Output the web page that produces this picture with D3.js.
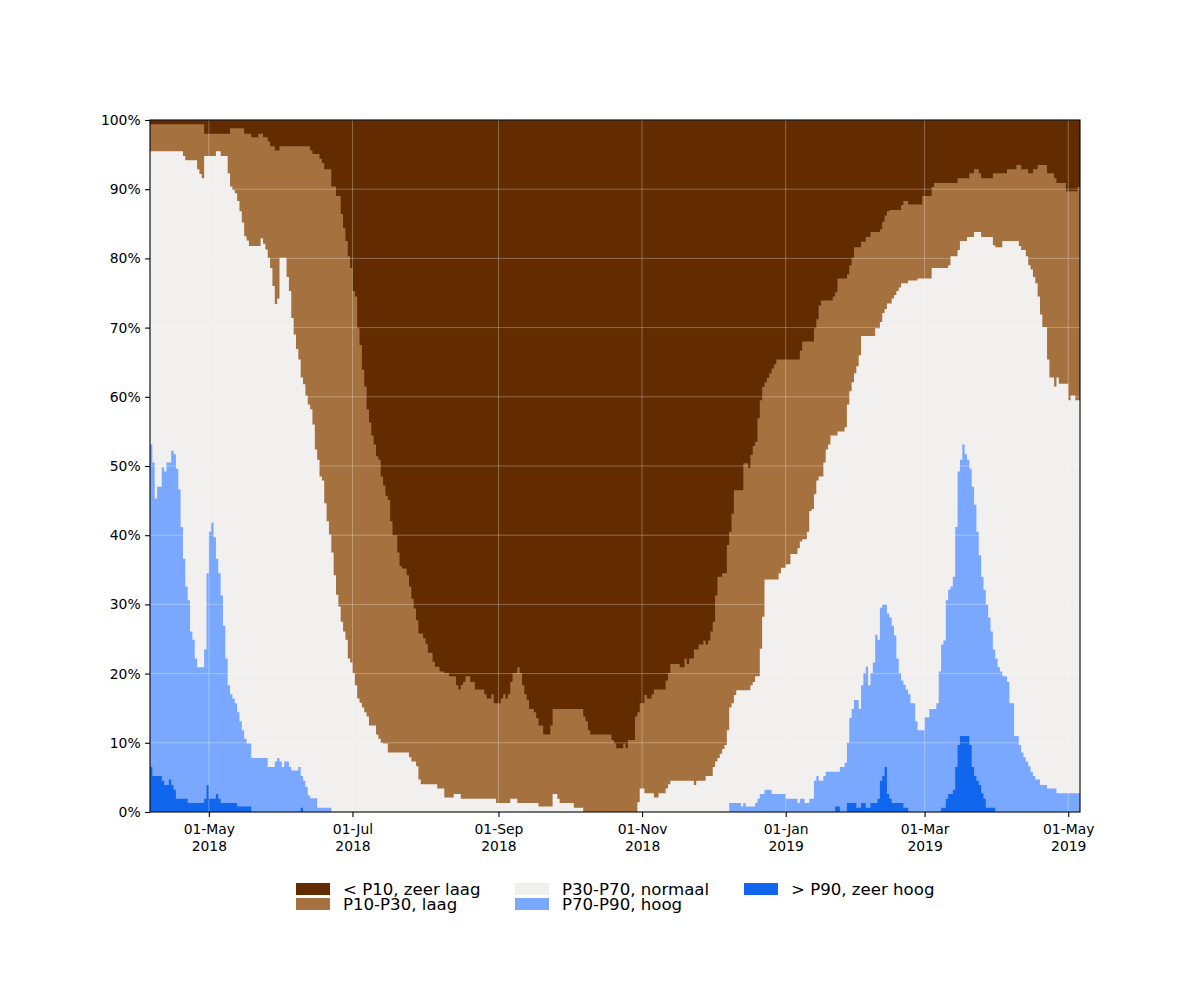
<!DOCTYPE html>
<html><head><meta charset="utf-8">
<script src="https://cdn.jsdelivr.net/npm/d3@7"></script>
<style>
body{margin:0;background:#fff}
svg{display:block}
text{font-family:"DejaVu Sans",sans-serif;fill:#000}
</style>
</head><body>
<svg id="chart" width="1200" height="1000"></svg>
<script>
// ---------------- data ----------------
const startDate = "2018-04-06";
const endDate = "2019-05-06";
const xTickDates = ["2018-05-01","2018-07-01","2018-09-01","2018-11-01","2019-01-01","2019-03-01","2019-05-01"];
const yTicks = [0,10,20,30,40,50,60,70,80,90,100];
const seriesKeys = ["zeerHoog","hoog","normaal","laag","zeerLaag"];
const seriesLabels = {zeerLaag:"< P10, zeer laag", laag:"P10-P30, laag", normaal:"P30-P70, normaal", hoog:"P70-P90, hoog", zeerHoog:"> P90, zeer hoog"};
const seriesColors = {zeerLaag:"#622b00", laag:"#a4713f", normaal:"#f2f0ee", hoog:"#7ba8ff", zeerHoog:"#1166ee"};

// cumulative percentage (from the bottom) at the top of each class,
// as [day since start, value] points where the daily value changes
const cumZeerHoog = [[0,6.5],[1,5.2],[5,4.5],[6,3.9],[8,4.7],[9,3.9],[10,3.2],[11,1.9],[16,1.3],[23,1.9],[24,3.9],[25,1.9],[28,2.6],[29,1.9],[30,1.3],[37,0.8],[43,0],[64,0.6],[65,0],
[291,0.8],[293,0],[296,1.3],[300,0.6],[302,1.3],[304,0.6],[306,1.3],[309,1.9],[310,4.5],[311,5.2],[312,6.5],[313,2.6],[314,1.9],[315,1.3],[320,0.6],[322,0],
[336,0.6],[338,1.9],[339,2.6],[341,3.2],[342,6.5],[343,9.7],[344,11],[348,9.7],[349,6.5],[350,5.2],[351,4.5],[352,3.9],[353,2.7],[354,1.9],[355,0.6],[359,0]];

const cumHoog = [[0,53.1],[1,50.5],[2,45.3],[3,47],[5,49.8],[6,49.2],[7,50.5],[9,52.2],[10,51.7],[11,49.6],[12,46.6],[13,41.2],[14,36.6],[15,32.6],[16,30.6],[17,26.1],[18,24.9],[19,22.2],[20,20.9],[23,23.5],[24,34.5],[25,40.5],[26,41.8],[27,39.7],[28,36.6],[29,34.5],[30,31.3],[31,26.9],[32,22.2],[33,18.3],[34,17],[35,16.4],[36,15.7],[37,14.4],[38,13.1],[39,11.8],[40,10.6],[41,9.9],[43,7.8],[50,6.5],[53,7.3],[54,7.8],[55,7.3],[56,6.5],[57,7.3],[59,6.5],[60,6],[63,6.5],[64,5.2],[65,4.5],[66,3.6],[67,2.4],[68,2],[71,0.6],[77,0],
[246,1.3],[251,0.8],[252,1.3],[253,0.8],[257,1.3],[258,1.9],[259,2.6],[261,3.2],[264,2.6],[270,1.9],[275,1.3],[276,1.9],[278,1.3],[280,1.9],[282,4.5],[283,5.2],[284,4.5],[286,5.2],[287,5.8],[293,6.5],[295,7.1],[296,10],[297,13.6],[298,14.9],[299,16.2],[301,14.9],[302,18.3],[303,20.1],[304,21],[305,18.3],[306,20.1],[307,21.6],[308,25.6],[309,24.9],[310,29.5],[311,30],[313,28.7],[314,28.1],[315,26.9],[316,25.5],[317,22.2],[318,20.1],[319,19],[320,18.4],[321,17.7],[322,17],[323,15.7],[325,13.1],[326,11.8],[329,13.7],[331,14.9],[334,15.7],[335,20.3],[336,24.2],[337,24.8],[338,30.6],[339,32.1],[340,32.6],[341,34],[342,41.2],[343,49.2],[344,50.9],[345,53.1],[346,51.7],[347,50.9],[348,49.6],[349,47],[350,44.4],[351,40.5],[352,37.1],[353,34],[354,32.1],[355,30],[356,28.1],[357,26.1],[358,23.5],[359,22.2],[360,20.9],[361,20.3],[362,19.6],[364,18.8],[365,15.7],[367,11],[369,9.7],[370,8.6],[371,7.9],[372,7.3],[373,6.6],[374,5.8],[375,5.2],[376,4.7],[378,3.9],[381,3.4],[385,2.7]];

const cumNormaal = [[0,95.5],[14,94.8],[15,94.2],[20,92.9],[21,92.2],[22,91.6],[23,94.8],[28,95.5],[30,94.8],[33,92.3],[34,90.4],[35,89.9],[36,89.4],[37,88.3],[38,86.8],[39,85.2],[40,83.2],[41,82.6],[42,81.8],[47,82.9],[48,82.1],[49,81.3],[50,80.1],[51,78.6],[52,76],[53,73.4],[54,74.2],[55,80.1],[58,77.3],[59,75.3],[60,71.4],[61,69],[62,66.9],[63,65.4],[64,62.8],[65,61.8],[66,60.2],[67,58.9],[68,58.2],[69,56],[70,52.4],[71,50.9],[72,48.5],[73,47.9],[74,44.6],[75,42],[76,40.1],[77,37.5],[78,34.2],[79,31.4],[80,29.7],[81,27.5],[82,26.1],[83,24.9],[84,22.2],[85,21.6],[86,20.1],[87,18.3],[88,16.4],[89,15.8],[90,15.1],[91,14.4],[92,13.8],[93,12.5],[96,11.2],[97,10.6],[98,10],[99,9.9],[101,8.6],[110,7.9],[111,7.3],[113,6.6],[114,4.7],[115,4],[122,3.4],[125,2.1],[129,2.6],[132,1.9],[147,1.3],[153,1.9],[156,1.3],[165,0.8],[171,2.6],[173,1.9],[174,1.3],[180,0.6],[184,0],
[207,1.4],[208,3.4],[210,2.7],[214,2.1],[216,2.7],[219,3.4],[220,4],[221,4.5],[231,3.9],[232,4.5],[236,5.2],[239,6.5],[240,7.3],[241,7.8],[242,8.4],[243,9.1],[244,9.7],[245,11.8],[246,15.1],[247,15.7],[248,16.9],[249,17.6],[255,18.3],[256,18.8],[257,19.6],[259,23.6],[260,28.2],[261,33.6],[267,34.5],[268,35.3],[270,35.8],[272,37.3],[275,38.1],[276,39.1],[277,39.4],[279,40.5],[280,43.5],[281,43.8],[282,45.9],[283,47.9],[284,48.5],[286,50.5],[287,52.4],[288,53.1],[289,54.4],[292,55],[295,55.6],[296,58.9],[297,60.8],[298,62.1],[299,63.4],[300,64.4],[301,66],[302,68.8],[308,69.9],[310,70.8],[311,72.1],[312,72.7],[313,73.5],[315,74.2],[316,74.7],[317,75.3],[318,75.8],[319,76.4],[322,76.8],[326,77.1],[332,78.6],[339,79],[340,80.3],[343,81.2],[344,82.5],[347,83.1],[350,83.8],[353,83.1],[358,81.9],[359,81.6],[362,82.5],[369,81.8],[370,81.2],[372,80.3],[373,79],[374,78.4],[375,77.3],[376,76.4],[377,74.5],[378,71.9],[379,70.1],[381,65.4],[382,62.8],[384,61.5],[385,62.8],[386,61.9],[390,59.5],[391,60.2],[393,59.5]];

const cumLaag = [[0,99.4],[23,98],[34,98.8],[40,98],[43,97.5],[46,98],[48,97.5],[50,96.9],[51,96.2],[53,95.6],[55,96.2],[68,95.6],[69,95.1],[72,94.4],[73,93.8],[74,92.9],[77,90.4],[79,89],[81,86.4],[82,84.4],[83,82.5],[84,80.3],[85,78.6],[86,75.3],[87,74.5],[88,69.9],[89,67.5],[90,63.9],[91,61.5],[92,58.2],[93,56.3],[94,54.4],[95,53.1],[96,51.4],[97,50.9],[98,48.5],[99,47.2],[100,45.7],[101,45.1],[102,42],[103,40],[105,37.5],[106,35.5],[107,35.2],[109,34.2],[110,32.6],[111,30.8],[112,29.4],[113,27.7],[114,25.8],[116,25.1],[117,24.3],[118,23],[120,21.7],[121,21],[123,20.3],[125,20.1],[127,19.6],[130,18.3],[131,17.7],[132,18.4],[133,18.8],[134,19.6],[136,18.8],[138,17.7],[142,17],[143,16.4],[145,17],[146,15.7],[149,16.4],[150,17],[151,16.4],[152,17],[153,18.8],[154,20.1],[156,20.9],[157,20.1],[158,18.3],[159,17],[160,16.2],[161,14.9],[163,14.4],[164,13.6],[165,12.5],[167,11.2],[170,12.5],[171,14.9],[184,13.8],[185,13.1],[186,11.8],[187,11.2],[196,10.4],[197,9.9],[198,9.2],[201,9.9],[202,9.2],[203,10.4],[206,13.8],[207,14.4],[208,15.7],[210,16.9],[211,16.4],[213,17],[214,17.7],[219,19],[220,20.1],[221,21.4],[225,20.9],[227,22.2],[228,21.4],[229,22.2],[231,23.5],[233,24.2],[235,24.8],[236,24.2],[237,24.8],[238,26.1],[239,27.5],[240,31.3],[241,34],[243,34.5],[245,38.6],[246,40.5],[247,43.1],[248,46.5],[252,50.4],[254,49.7],[255,51.6],[256,52.9],[257,53.5],[258,56.9],[259,59.5],[260,61.4],[261,62.1],[262,62.7],[263,63.4],[264,64.1],[265,64.7],[266,65.4],[276,66.7],[277,68],[282,69.9],[283,71.2],[284,73.2],[285,73.9],[290,74.5],[291,75.1],[292,77.1],[296,77.7],[297,79],[298,80.1],[299,81.6],[302,82.4],[304,83.1],[306,83.8],[310,84.2],[311,85.3],[312,86.2],[313,86.8],[314,87],[319,87.7],[320,88.3],[322,87.8],[328,89],[332,90.3],[333,90.9],[343,91.6],[348,92.3],[350,92.9],[352,92.3],[353,91.6],[358,92.3],[364,92.9],[368,93.5],[370,92.9],[373,92.3],[375,92.9],[377,93.5],[381,92.3],[384,91.6],[385,90.9],[389,89.7],[394,90.3]];

// ---------------- build daily table ----------------
const parseDay = d3.utcParse("%Y-%m-%d");
const t0 = parseDay(startDate), t1 = parseDay(endDate);
const nDays = d3.utcDay.count(t0, t1);
function valueOn(points, day){ // value held since the last change point
  const i = d3.bisector(p => p[0]).right(points, day) - 1;
  return points[Math.max(0, i)][1];
}
const rows = [];
for (let i = 0; i < nDays; i++) {
  const c1 = valueOn(cumZeerHoog, i), c2 = valueOn(cumHoog, i), c3 = valueOn(cumNormaal, i), c4 = valueOn(cumLaag, i);
  rows.push({date: d3.utcDay.offset(t0, i), zeerHoog: c1, hoog: c2 - c1, normaal: c3 - c2, laag: c4 - c3, zeerLaag: 100 - c4});
}
rows.push(Object.assign({}, rows[rows.length - 1], {date: t1}));

// ---------------- layout ----------------
const L = 150, R = 1080, T = 120, B = 812;
const svg = d3.select("#chart");
const x = d3.scaleUtc().domain([t0, t1]).range([L, R]);
const y = d3.scaleLinear().domain([0, 100]).range([B, T]);

const stacked = d3.stack().keys(seriesKeys)(rows);
const area = d3.area()
  .x(d => x(d.data.date))
  .y0(y(0))
  .y1(d => y(d[1]))
  .curve(d3.curveStepAfter);

// draw top layer first, each filled down to 0 so there are no seams
svg.append("g").selectAll("path")
  .data(stacked.slice().reverse())
  .join("path")
  .attr("d", area)
  .attr("fill", s => seriesColors[s.key]);

// grid
const grid = svg.append("g").attr("stroke", "#ffffff").attr("stroke-opacity", 0.3).attr("stroke-width", 1);
grid.selectAll("line.h").data(yTicks).join("line")
  .attr("x1", L).attr("x2", R).attr("y1", d => y(d)).attr("y2", d => y(d));
grid.selectAll("line.v").data(xTickDates).join("line")
  .attr("x1", d => x(parseDay(d))).attr("x2", d => x(parseDay(d))).attr("y1", T).attr("y2", B);

// axes
const fmtDay = d3.utcFormat("%d-%b"), fmtYear = d3.utcFormat("%Y");
const xAxis = d3.axisBottom(x).tickValues(xTickDates.map(parseDay)).tickSize(4.9).tickPadding(4).tickFormat("");
const gx = svg.append("g").attr("transform", `translate(0,${B})`).call(xAxis);
gx.select(".domain").remove();
gx.selectAll(".tick line").attr("stroke", "#000").attr("stroke-width", 1.1);
gx.selectAll(".tick").each(function(d){
  const t = d3.select(this).append("text").attr("text-anchor", "middle").attr("font-size", "13.9px").attr("fill", "#000");
  t.append("tspan").attr("x", 0).attr("y", 22).text(fmtDay(d));
  t.append("tspan").attr("x", 0).attr("y", 38.5).text(fmtYear(d));
});

const yAxis = d3.axisLeft(y).tickValues(yTicks).tickSize(4.9).tickPadding(4.5).tickFormat(d => d + "%");
const gy = svg.append("g").attr("transform", `translate(${L},0)`).call(yAxis);
gy.select(".domain").remove();
gy.selectAll(".tick line").attr("stroke", "#000").attr("stroke-width", 1.1);
gy.selectAll(".tick text").attr("font-size", "13.9px").attr("font-family", "DejaVu Sans").attr("fill", "#000");

// frame
svg.append("rect").attr("x", L).attr("y", T).attr("width", R - L).attr("height", B - T)
  .attr("fill", "none").attr("stroke", "#000").attr("stroke-width", 1.1);

// legend
const legendItems = [
  {key:"zeerLaag", col:0, row:0}, {key:"laag", col:0, row:1},
  {key:"normaal", col:1, row:0}, {key:"hoog", col:1, row:1},
  {key:"zeerHoog", col:2, row:0}
];
const colX = [296, 515, 744];
const lg = svg.append("g");
legendItems.forEach(it => {
  const gx0 = colX[it.col], gy0 = 883 + it.row * 15;
  lg.append("rect").attr("x", gx0).attr("y", gy0).attr("width", 34).attr("height", 12)
    .attr("fill", seriesColors[it.key]);
  lg.append("text").attr("x", gx0 + 47).attr("y", gy0 + 12).attr("font-size", "16.6px").text(seriesLabels[it.key]);
});
</script>
</body></html>
